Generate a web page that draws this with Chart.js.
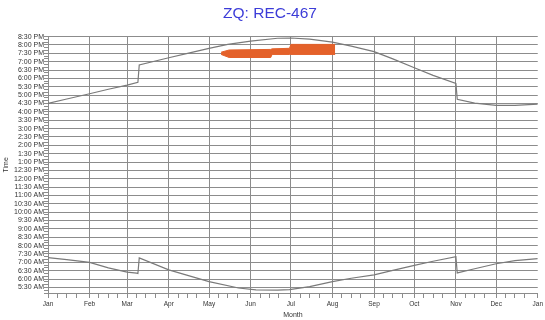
<!DOCTYPE html>
<html>
<head>
<meta charset="utf-8">
<script src="https://cdn.jsdelivr.net/npm/chart.js@4"></script>
<style>
  html, body { margin: 0; padding: 0; background: #fff; }
  #wrap { width: 545px; height: 320px; }
</style>
</head>
<body>
<div id="wrap"><canvas id="chart" width="545" height="320"></canvas></div>
<script>
// x axis: day of year, y axis: minutes after midnight
const monthLabels = ['Jan', 'Feb', 'Mar', 'Apr', 'May', 'Jun', 'Jul', 'Aug', 'Sep', 'Oct', 'Nov', 'Dec', 'Jan'];
const monthStarts = [0, 31, 59, 90, 120, 151, 181, 212, 243, 273, 304, 334, 365];

const sunsetDays = [0, 14, 31, 45, 59, 67, 68, 90, 104, 120, 134, 151, 171, 181, 195, 212, 226, 243, 257, 273, 287, 304, 305, 318, 334, 348, 365];
const sunsetMins = [990, 1006, 1025, 1041, 1056, 1066, 1128, 1154, 1170, 1188, 1202, 1214, 1224, 1225, 1221, 1210, 1196, 1176, 1150, 1118, 1091, 1062, 1005, 991, 983, 983, 988];

const sunriseDays = [0, 14, 31, 45, 59, 66, 67, 68, 90, 120, 142, 155, 171, 180, 195, 212, 226, 243, 257, 273, 287, 304, 305, 318, 334, 348, 365];
const sunriseMins = [437, 430, 420, 400, 385, 381, 380, 436, 393, 351, 328, 321, 320, 322, 333, 351, 363, 375, 391, 409, 424, 440, 382, 397, 415, 426, 433];

const bandDays = [129, 135, 166, 167, 180, 181, 214];
const bandTop = [1174, 1182, 1184, 1186, 1188, 1202, 1202];
const bandBottom = [1166, 1155, 1155, 1166, 1166, 1166, 1166];

const yMin = 310;
const yMax = 1230;

function pts(xs, ys) {
  return xs.map((x, i) => ({ x: x, y: ys[i] }));
}

function timeLabel(m) {
  let h = Math.floor(m / 60);
  const mm = m % 60;
  const ap = h >= 12 ? 'PM' : 'AM';
  h = h % 12;
  if (h === 0) h = 12;
  return h + ':' + (mm < 10 ? '0' : '') + mm + ' ' + ap;
}

const FONT = 'Arial, "Liberation Sans", sans-serif';
const GRID = '#8c8c8c';
const LINE = '#7a7a7a';
const ORANGE = '#e4612a';

new Chart(document.getElementById('chart'), {
  type: 'line',
  data: {
    datasets: [
      { label: 'Sunset', data: pts(sunsetDays, sunsetMins), borderColor: LINE, borderWidth: 1.2, pointRadius: 0, fill: false, tension: 0 },
      { label: 'Sunrise', data: pts(sunriseDays, sunriseMins), borderColor: LINE, borderWidth: 1.2, pointRadius: 0, fill: false, tension: 0 },
      { label: 'Band top', data: pts(bandDays, bandTop), borderColor: ORANGE, backgroundColor: ORANGE, borderWidth: 1, pointRadius: 0, fill: '+1', tension: 0 },
      { label: 'Band bottom', data: pts(bandDays, bandBottom), borderColor: ORANGE, borderWidth: 1, pointRadius: 0, fill: false, tension: 0 }
    ]
  },
  options: {
    responsive: false,
    animation: false,
    layout: { padding: { left: 0, right: 5, top: 0, bottom: 0 } },
    plugins: {
      legend: { display: false },
      tooltip: { enabled: false },
      title: {
        display: true,
        text: 'ZQ: REC-467',
        color: '#3c3cd8',
        font: { family: FONT, size: 15.5, weight: 'normal' },
        padding: { top: 4, bottom: 14 }
      }
    },
    scales: {
      x: {
        type: 'linear',
        min: 0,
        max: 365,
        afterBuildTicks: (scale) => {
          const t = [];
          for (let i = 0; i < monthStarts.length; i++) {
            t.push({ value: monthStarts[i] });
            if (i < monthStarts.length - 1) {
              [7, 14, 21].forEach(d => t.push({ value: monthStarts[i] + d }));
            }
          }
          scale.ticks = t;
        },
        afterFit: (scale) => { scale.height = 27; },
        ticks: {
          autoSkip: false,
          maxRotation: 0,
          padding: 2,
          color: '#333',
          font: { family: FONT, size: 6.5 },
          callback: (v) => {
            const i = monthStarts.indexOf(v);
            return i >= 0 ? monthLabels[i] : '';
          }
        },
        grid: {
          color: (ctx) => (ctx.tick && monthStarts.indexOf(ctx.tick.value) >= 0 && ctx.tick.value !== 365) ? GRID : 'rgba(0,0,0,0)',
          tickColor: GRID,
          tickLength: 5,
          lineWidth: 1
        },
        border: { display: true, color: GRID, width: 1 },
        title: {
          display: true,
          text: 'Month',
          color: '#333',
          font: { family: FONT, size: 7 },
          padding: { top: 0, bottom: 1 }
        }
      },
      y: {
        type: 'linear',
        min: yMin,
        max: yMax,
        afterBuildTicks: (scale) => {
          const t = [];
          for (let v = yMin; v <= yMax; v += 10) t.push({ value: v });
          scale.ticks = t;
        },
        afterFit: (scale) => { scale.width = 48; },
        ticks: {
          autoSkip: false,
          padding: 0,
          color: '#333',
          font: { family: FONT, size: 7 },
          callback: (v) => (v % 30 === 0 ? timeLabel(v) : '')
        },
        grid: {
          color: (ctx) => (ctx.tick && ctx.tick.value % 30 === 0) ? GRID : 'rgba(0,0,0,0)',
          tickColor: GRID,
          tickLength: 4,
          lineWidth: 1
        },
        border: { display: true, color: GRID, width: 1 },
        title: {
          display: true,
          text: 'Time',
          color: '#333',
          font: { family: FONT, size: 7 },
          padding: { top: 2, bottom: 0 }
        }
      }
    }
  }
});
</script>
</body>
</html>
